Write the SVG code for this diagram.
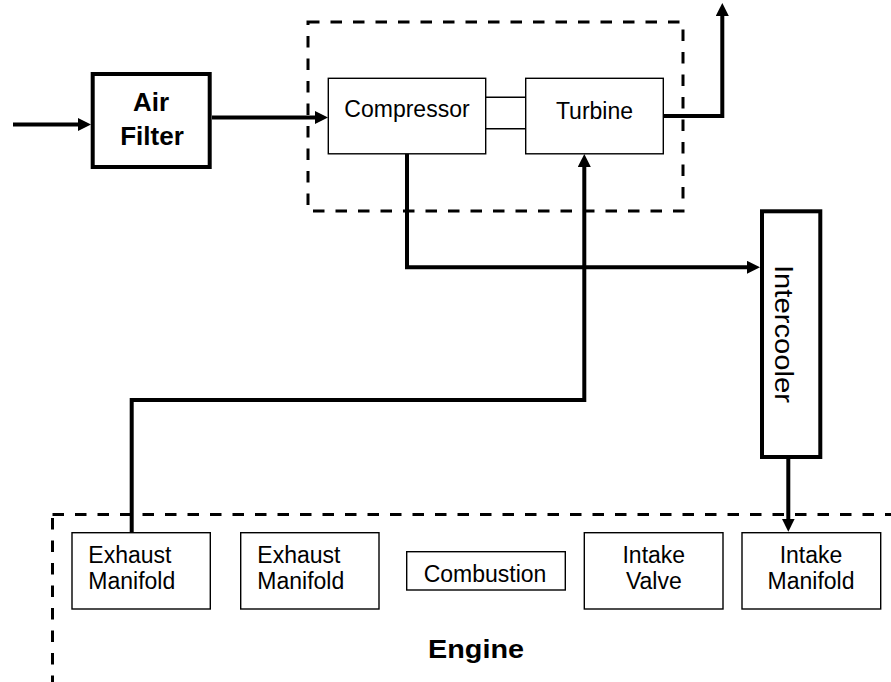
<svg xmlns="http://www.w3.org/2000/svg" width="891" height="682" viewBox="0 0 891 682">
<defs>
<style>
.box{fill:#fff;stroke:#000;stroke-width:1.4}
.thick{fill:#fff;stroke:#000;stroke-width:4}
.dash{fill:none;stroke:#000;stroke-width:3;stroke-dasharray:11.5 11}
.conn{fill:none;stroke:#000;stroke-width:4;stroke-linejoin:miter}
.shaft{fill:none;stroke:#000;stroke-width:1.4}
.t{font-family:"Liberation Sans",Arial,sans-serif;font-size:23px;fill:#000}
.b{font-family:"Liberation Sans",Arial,sans-serif;font-size:26px;font-weight:bold;fill:#000}
.m{text-anchor:middle}
</style>
<marker id="arr" markerUnits="userSpaceOnUse" markerWidth="14" markerHeight="13" refX="2" refY="6.5" orient="auto">
<path d="M0,0 L13,6.5 L0,13 z" fill="#000"/>
</marker>
</defs>
<rect width="891" height="682" fill="#fff"/>

<g id="turbo-group">
<rect class="dash" x="308" y="22" width="375" height="189"/>
</g>
<g id="engine-group">
<rect class="dash" x="52.5" y="514.5" width="900" height="300"/>
<text class="b m" x="476" y="658" textLength="96" lengthAdjust="spacingAndGlyphs">Engine</text>
</g>

<g id="connectors">
<path class="conn" d="M13,124.5 H80" marker-end="url(#arr)"/>
<path class="conn" d="M212,117.5 H317" marker-end="url(#arr)"/>
<path class="conn" d="M663,116 H722.3 V14" marker-end="url(#arr)"/>
<path class="conn" d="M407,154 V267.3 H749" marker-end="url(#arr)"/>
<path class="conn" d="M131.7,533 V400 H584.3 V165" marker-end="url(#arr)"/>
<path class="conn" d="M788.3,459 V520.7" marker-end="url(#arr)"/>
<path class="shaft" d="M485.7,97.3 H525.7 M485.7,128.7 H525.7"/>
</g>

<g id="air-filter">
<rect class="thick" x="92.7" y="74" width="117" height="93"/>
<text class="b m" x="151" y="111">Air</text>
<text class="b m" x="152" y="145">Filter</text>
</g>

<g id="compressor">
<rect class="box" x="328.3" y="78.3" width="157.4" height="75.5"/>
<text class="t m" x="407" y="117">Compressor</text>
</g>

<g id="turbine">
<rect class="box" x="525.7" y="78.3" width="137.6" height="75.5"/>
<text class="t m" x="594.5" y="119">Turbine</text>
</g>

<g id="intercooler">
<rect class="thick" x="762" y="211.3" width="58.3" height="245.7"/>
<text class="t m" x="775" y="334" style="font-size:26px" textLength="138" lengthAdjust="spacingAndGlyphs" transform="rotate(90 775 334)">Intercooler</text>
</g>

<g id="exhaust-manifold-1">
<rect class="box" x="72" y="532.7" width="138.3" height="76.3"/>
<text class="t" x="88.3" y="562.7">Exhaust</text>
<text class="t" x="88.3" y="589.3">Manifold</text>
</g>

<g id="exhaust-manifold-2">
<rect class="box" x="240.7" y="532.7" width="138.3" height="76.3"/>
<text class="t" x="257.3" y="562.7">Exhaust</text>
<text class="t" x="257.3" y="589.3">Manifold</text>
</g>

<g id="combustion">
<rect class="box" x="406.7" y="551.7" width="158.6" height="38.3"/>
<text class="t m" x="485" y="581.7">Combustion</text>
</g>

<g id="intake-valve">
<rect class="box" x="584.3" y="532.7" width="138.7" height="76.3"/>
<text class="t m" x="653.8" y="562.7">Intake</text>
<text class="t m" x="653.8" y="589.3">Valve</text>
</g>

<g id="intake-manifold">
<rect class="box" x="742" y="532.7" width="138.7" height="76.3"/>
<text class="t m" x="811" y="562.7">Intake</text>
<text class="t m" x="811" y="589.3">Manifold</text>
</g>
</svg>
